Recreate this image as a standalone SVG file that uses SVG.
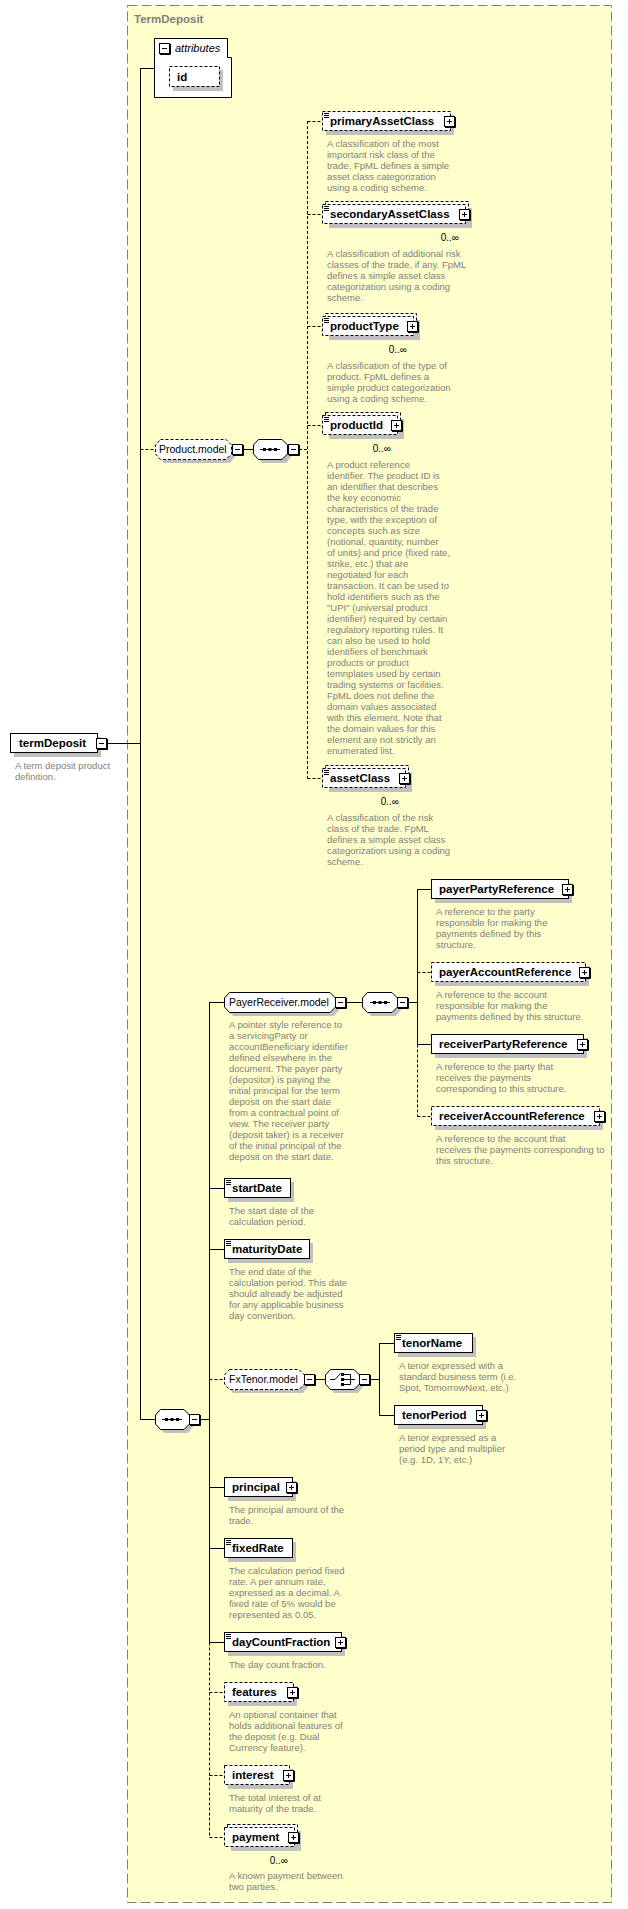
<svg xmlns="http://www.w3.org/2000/svg" width="628" height="1909" viewBox="0 0 628 1909">
<style>
.bg{fill:#FFFFCC;stroke:#808080;stroke-dasharray:10,4}
.box{fill:#fff;stroke:#000}
.dbox{fill:#fff;stroke:#000;stroke-dasharray:3,2}
.sh{fill:#C0C0C0}
.ln{fill:none;stroke:#000}
.dl{fill:none;stroke:#000;stroke-dasharray:3,2}
.lbl{font-family:"Liberation Sans",Arial,sans-serif;font-weight:bold;font-size:11.5px;fill:#000}
.mdl{font-family:"Liberation Sans",Arial,sans-serif;font-size:10.5px;fill:#000}
.att{font-family:"Liberation Sans",Arial,sans-serif;font-style:italic;font-size:11px;fill:#000}
.desc{font-family:"Liberation Sans",Arial,sans-serif;font-size:9.5px;fill:#808080}
.occ{font-family:"Liberation Sans",Arial,sans-serif;font-size:10px;fill:#000;text-anchor:end}
.ttl{font-family:"Liberation Sans",Arial,sans-serif;font-weight:bold;font-size:11.5px;fill:#808080}
</style>
<defs>
<g id="plus"><rect x="0.5" y="0.5" width="10" height="10" fill="#fff" stroke="#000"/><path d="M11.5,1V11.5H1" fill="none" stroke="#000"/><path d="M3,5.5H8M5.5,3V8" stroke="#000"/></g>
<g id="minus"><rect x="0.5" y="0.5" width="10" height="10" fill="#fff" stroke="#000"/><path d="M11.5,1V11.5H1" fill="none" stroke="#000"/><path d="M3,5.5H8" stroke="#000"/></g>
<path id="icon" d="M2,2.5h5M2,4.5h5M2,6.5h5" stroke="#000"/>
<g id="seqicon"><path d="M7,10.5H27" stroke="#000"/><rect x="10" y="9" width="3" height="3"/><rect x="15.5" y="9" width="3" height="3"/><rect x="21" y="9" width="3" height="3"/></g>
</defs>

<rect class="bg" x="127.5" y="5.5" width="484" height="1897"/>
<text class="ttl" x="134" y="23">TermDeposit</text>

<g id="connectors">
<path class="ln" d="M107,743.5H140.5M140.5,68V1419.5M140.5,68.5H154M140.5,1419.5H155M200,1419.5H209.5"/>
<path class="dl" d="M140.5,449.5H155"/>
<path class="ln" d="M243,449.5H253"/>
<path class="dl" d="M299,449.5H307.5M307.5,121V778.5M307.5,121.5H322M307.5,214.5H322M307.5,326.5H322M307.5,425.5H322M307.5,778.5H322"/>
<path class="ln" d="M209.5,1002V1642.5M209.5,1002.5H224M209.5,1188.5H224M209.5,1249.5H224M209.5,1487.5H224M209.5,1548.5H224M209.5,1642.5H224"/>
<path class="dl" d="M209.5,1642.5V1837.5M209.5,1379.5H224M209.5,1692.5H224M209.5,1775.5H224M209.5,1837.5H224"/>
<path class="ln" d="M346,1002.5H362M408,1002.5H417.5M417.5,889V1044.5M417.5,889.5H431M417.5,1044.5H431"/>
<path class="dl" d="M417.5,1044.5V1116.5M417.5,972.5H431M417.5,1116.5H431"/>
<path class="ln" d="M315,1379.5H325M370,1379.5H379.5M379.5,1343V1415.5M379.5,1343.5H394M379.5,1415.5H394"/>
</g>

<g id="termDeposit">
<rect class="sh" x="14" y="737" width="87" height="20"/>
<rect class="box" x="10.5" y="733.5" width="87" height="19"/>
<text class="lbl" x="19" y="747">termDeposit</text>
<use href="#minus" x="96" y="738"/>
<text class="desc" x="15" y="769"><tspan x="15">A term deposit product</tspan><tspan x="15" dy="11">definition.</tspan></text>
</g>

<g id="attributes">
<path class="box" d="M154.5,38.5H227.5V57.5H231.5V97.5H154.5Z"/>
<use href="#minus" x="159" y="43"/>
<text class="att" x="175" y="52">attributes</text>
<rect class="sh" x="173" y="70" width="50" height="21"/>
<rect class="dbox" x="169.5" y="66.5" width="50" height="20"/>
<text class="lbl" x="177" y="81">id</text>
</g>

<g id="Product.model">
<path class="sh" d="M164,443H230L235,449V457L230,463H164L159,457V449Z"/>
<path class="dbox" d="M160.5,439.5H226L231.5,445V454L226,459.5H160.5L155.5,454V445Z"/>
<text class="mdl" x="159" y="453">Product.model</text>
<use href="#minus" x="232" y="444"/>
</g>
<g id="Product.sequence">
<path class="sh" d="M262,443H286L291,449V457L286,463H262L257,457V449Z"/>
<path class="box" d="M258.5,439.5H282L287.5,445V454L282,459.5H258.5L253.5,454V445Z"/>
<use href="#seqicon" x="253" y="439"/>
<use href="#minus" x="288" y="444"/>
</g>

<g id="primaryAssetClass">
<rect class="sh" x="326" y="115" width="128" height="20"/>
<rect class="dbox" x="322.5" y="111.5" width="128" height="19"/>
<use href="#icon" x="322" y="111"/>
<text class="lbl" x="330" y="125">primaryAssetClass</text>
<use href="#plus" x="444" y="116"/>
<text class="desc" x="327" y="147"><tspan x="327">A classification of the most</tspan><tspan x="327" dy="11">important risk class of the</tspan><tspan x="327" dy="11">trade. FpML defines a simple</tspan><tspan x="327" dy="11">asset class categorization</tspan><tspan x="327" dy="11">using a coding scheme.</tspan></text>
</g>

<g id="secondaryAssetClass">
<rect class="sh" x="329" y="208" width="143" height="20"/>
<rect class="dbox" x="325.5" y="201.5" width="143" height="19"/>
<rect class="dbox" x="322.5" y="204.5" width="143" height="19"/>
<use href="#icon" x="322" y="204"/>
<text class="lbl" x="330" y="218">secondaryAssetClass</text>
<use href="#plus" x="459" y="209"/>
<text class="occ" x="459" y="241">0..∞</text>
<text class="desc" x="327" y="257"><tspan x="327">A classification of additional risk</tspan><tspan x="327" dy="11">classes of the trade, if any. FpML</tspan><tspan x="327" dy="11">defines a simple asset class</tspan><tspan x="327" dy="11">categorization using a coding</tspan><tspan x="327" dy="11">scheme.</tspan></text>
</g>

<g id="productType">
<rect class="sh" x="329" y="320" width="91" height="20"/>
<rect class="dbox" x="325.5" y="313.5" width="91" height="19"/>
<rect class="dbox" x="322.5" y="316.5" width="91" height="19"/>
<use href="#icon" x="322" y="316"/>
<text class="lbl" x="330" y="330">productType</text>
<use href="#plus" x="407" y="321"/>
<text class="occ" x="407" y="353">0..∞</text>
<text class="desc" x="327" y="369"><tspan x="327">A classification of the type of</tspan><tspan x="327" dy="11">product. FpML defines a</tspan><tspan x="327" dy="11">simple product categorization</tspan><tspan x="327" dy="11">using a coding scheme.</tspan></text>
</g>

<g id="productId">
<rect class="sh" x="329" y="419" width="75" height="20"/>
<rect class="dbox" x="325.5" y="412.5" width="75" height="19"/>
<rect class="dbox" x="322.5" y="415.5" width="75" height="19"/>
<use href="#icon" x="322" y="415"/>
<text class="lbl" x="330" y="429">productId</text>
<use href="#plus" x="391" y="420"/>
<text class="occ" x="391" y="452">0..∞</text>
<text class="desc" x="327" y="468"><tspan x="327">A product reference</tspan><tspan x="327" dy="11">identifier. The product ID is</tspan><tspan x="327" dy="11">an identifier that describes</tspan><tspan x="327" dy="11">the key economic</tspan><tspan x="327" dy="11">characteristics of the trade</tspan><tspan x="327" dy="11">type, with the exception of</tspan><tspan x="327" dy="11">concepts such as size</tspan><tspan x="327" dy="11">(notional, quantity, number</tspan><tspan x="327" dy="11">of units) and price (fixed rate,</tspan><tspan x="327" dy="11">strike, etc.) that are</tspan><tspan x="327" dy="11">negotiated for each</tspan><tspan x="327" dy="11">transaction. It can be used to</tspan><tspan x="327" dy="11">hold identifiers such as the</tspan><tspan x="327" dy="11">"UPI" (universal product</tspan><tspan x="327" dy="11">identifier) required by certain</tspan><tspan x="327" dy="11">regulatory reporting rules. It</tspan><tspan x="327" dy="11">can also be used to hold</tspan><tspan x="327" dy="11">identifiers of benchmark</tspan><tspan x="327" dy="11">products or product</tspan><tspan x="327" dy="11">temnplates used by certain</tspan><tspan x="327" dy="11">trading systems or facilities.</tspan><tspan x="327" dy="11">FpML does not define the</tspan><tspan x="327" dy="11">domain values associated</tspan><tspan x="327" dy="11">with this element. Note that</tspan><tspan x="327" dy="11">the domain values for this</tspan><tspan x="327" dy="11">element are not strictly an</tspan><tspan x="327" dy="11">enumerated list.</tspan></text>
</g>

<g id="assetClass">
<rect class="sh" x="329" y="772" width="83" height="20"/>
<rect class="dbox" x="325.5" y="765.5" width="83" height="19"/>
<rect class="dbox" x="322.5" y="768.5" width="83" height="19"/>
<use href="#icon" x="322" y="768"/>
<text class="lbl" x="330" y="782">assetClass</text>
<use href="#plus" x="399" y="773"/>
<text class="occ" x="399" y="805">0..∞</text>
<text class="desc" x="327" y="821"><tspan x="327">A classification of the risk</tspan><tspan x="327" dy="11">class of the trade. FpML</tspan><tspan x="327" dy="11">defines a simple asset class</tspan><tspan x="327" dy="11">categorization using a coding</tspan><tspan x="327" dy="11">scheme.</tspan></text>
</g>

<g id="main.sequence">
<path class="sh" d="M164,1413H188L193,1419V1427L188,1433H164L159,1427V1419Z"/>
<path class="box" d="M160.5,1409.5H184L189.5,1415V1424L184,1429.5H160.5L155.5,1424V1415Z"/>
<use href="#seqicon" x="155" y="1409"/>
<use href="#minus" x="189" y="1414"/>
</g>

<g id="PayerReceiver.model">
<path class="sh" d="M233,996H334L339,1002V1010L334,1016H233L228,1010V1002Z"/>
<path class="box" d="M229.5,992.5H330L335.5,998V1007L330,1012.5H229.5L224.5,1007V998Z"/>
<text class="mdl" x="229" y="1006">PayerReceiver.model</text>
<use href="#minus" x="335" y="997"/>
<text class="desc" x="229" y="1028"><tspan x="229">A pointer style reference to</tspan><tspan x="229" dy="11">a servicingParty or</tspan><tspan x="229" dy="11">accountBeneficiary identifier</tspan><tspan x="229" dy="11">defined elsewhere in the</tspan><tspan x="229" dy="11">document. The payer party</tspan><tspan x="229" dy="11">(depositor) is paying the</tspan><tspan x="229" dy="11">initial principal for the term</tspan><tspan x="229" dy="11">deposit on the start date</tspan><tspan x="229" dy="11">from a contractual point of</tspan><tspan x="229" dy="11">view. The receiver party</tspan><tspan x="229" dy="11">(deposit taker) is a receiver</tspan><tspan x="229" dy="11">of the initial principal of the</tspan><tspan x="229" dy="11">deposit on the start date.</tspan></text>
</g>
<g id="PayerReceiver.sequence">
<path class="sh" d="M371,996H396L401,1002V1010L396,1016H371L366,1010V1002Z"/>
<path class="box" d="M367.5,992.5H392L397.5,998V1007L392,1012.5H367.5L362.5,1007V998Z"/>
<use href="#seqicon" x="363" y="992"/>
<use href="#minus" x="397" y="997"/>
</g>

<g id="payerPartyReference">
<rect class="sh" x="435" y="883" width="137" height="20"/>
<rect class="box" x="431.5" y="879.5" width="137" height="19"/>
<text class="lbl" x="439" y="893">payerPartyReference</text>
<use href="#plus" x="562" y="884"/>
<text class="desc" x="436" y="915"><tspan x="436">A reference to the party</tspan><tspan x="436" dy="11">responsible for making the</tspan><tspan x="436" dy="11">payments defined by this</tspan><tspan x="436" dy="11">structure.</tspan></text>
</g>

<g id="payerAccountReference">
<rect class="sh" x="435" y="966" width="154" height="20"/>
<rect class="dbox" x="431.5" y="962.5" width="154" height="19"/>
<text class="lbl" x="439" y="976">payerAccountReference</text>
<use href="#plus" x="579" y="967"/>
<text class="desc" x="436" y="998"><tspan x="436">A reference to the account</tspan><tspan x="436" dy="11">responsible for making the</tspan><tspan x="436" dy="11">payments defined by this structure.</tspan></text>
</g>

<g id="receiverPartyReference">
<rect class="sh" x="435" y="1038" width="152" height="20"/>
<rect class="box" x="431.5" y="1034.5" width="152" height="19"/>
<text class="lbl" x="439" y="1048">receiverPartyReference</text>
<use href="#plus" x="577" y="1039"/>
<text class="desc" x="436" y="1070"><tspan x="436">A reference to the party that</tspan><tspan x="436" dy="11">receives the payments</tspan><tspan x="436" dy="11">corresponding to this structure.</tspan></text>
</g>

<g id="receiverAccountReference">
<rect class="sh" x="435" y="1110" width="168" height="20"/>
<rect class="dbox" x="431.5" y="1106.5" width="168" height="19"/>
<text class="lbl" x="439" y="1120">receiverAccountReference</text>
<use href="#plus" x="594" y="1111"/>
<text class="desc" x="436" y="1142"><tspan x="436">A reference to the account that</tspan><tspan x="436" dy="11">receives the payments corresponding to</tspan><tspan x="436" dy="11">this structure.</tspan></text>
</g>

<g id="startDate">
<rect class="sh" x="228" y="1182" width="66" height="20"/>
<rect class="box" x="224.5" y="1178.5" width="66" height="19"/>
<use href="#icon" x="224" y="1178"/>
<text class="lbl" x="232" y="1192">startDate</text>
<text class="desc" x="229" y="1214"><tspan x="229">The start date of the</tspan><tspan x="229" dy="11">calculation period.</tspan></text>
</g>

<g id="maturityDate">
<rect class="sh" x="228" y="1243" width="85" height="20"/>
<rect class="box" x="224.5" y="1239.5" width="85" height="19"/>
<use href="#icon" x="224" y="1239"/>
<text class="lbl" x="232" y="1253">maturityDate</text>
<text class="desc" x="229" y="1275"><tspan x="229">The end date of the</tspan><tspan x="229" dy="11">calculation period. This date</tspan><tspan x="229" dy="11">should already be adjusted</tspan><tspan x="229" dy="11">for any applicable business</tspan><tspan x="229" dy="11">day convention.</tspan></text>
</g>

<g id="FxTenor.model">
<path class="sh" d="M233,1373H303L308,1379V1387L303,1393H233L228,1387V1379Z"/>
<path class="dbox" d="M229.5,1369.5H299L304.5,1375V1384L299,1389.5H229.5L224.5,1384V1375Z"/>
<text class="mdl" x="229" y="1383">FxTenor.model</text>
<use href="#minus" x="304" y="1374"/>
</g>
<g id="FxTenor.choice">
<path class="sh" d="M334,1373H358L363,1379V1387L358,1393H334L329,1387V1379Z"/>
<path class="box" d="M330.5,1369.5H354L359.5,1375V1384L354,1389.5H330.5L325.5,1384V1375Z"/>
<path d="M330,1379.5H335L340.5,1373.5M344,1374.5H350.5V1384.5H344M344,1379.5H355" fill="none" stroke="#000"/>
<rect x="341" y="1373" width="3" height="3"/><rect x="341" y="1378" width="3" height="3"/><rect x="341" y="1383" width="3" height="3"/>
<use href="#minus" x="359" y="1374"/>
</g>

<g id="tenorName">
<rect class="sh" x="398" y="1337" width="78" height="20"/>
<rect class="box" x="394.5" y="1333.5" width="78" height="19"/>
<use href="#icon" x="394" y="1333"/>
<text class="lbl" x="402" y="1347">tenorName</text>
<text class="desc" x="399" y="1369"><tspan x="399">A tenor expressed with a</tspan><tspan x="399" dy="11">standard business term (i.e.</tspan><tspan x="399" dy="11">Spot, TomorrowNext, etc.)</tspan></text>
</g>

<g id="tenorPeriod">
<rect class="sh" x="398" y="1409" width="88" height="20"/>
<rect class="box" x="394.5" y="1405.5" width="88" height="19"/>
<text class="lbl" x="402" y="1419">tenorPeriod</text>
<use href="#plus" x="476" y="1410"/>
<text class="desc" x="399" y="1441"><tspan x="399">A tenor expressed as a</tspan><tspan x="399" dy="11">period type and multiplier</tspan><tspan x="399" dy="11">(e.g. 1D, 1Y, etc.)</tspan></text>
</g>

<g id="principal">
<rect class="sh" x="228" y="1481" width="68" height="20"/>
<rect class="box" x="224.5" y="1477.5" width="68" height="19"/>
<text class="lbl" x="232" y="1491">principal</text>
<use href="#plus" x="286" y="1482"/>
<text class="desc" x="229" y="1513"><tspan x="229">The principal amount of the</tspan><tspan x="229" dy="11">trade.</tspan></text>
</g>

<g id="fixedRate">
<rect class="sh" x="228" y="1542" width="68" height="20"/>
<rect class="box" x="224.5" y="1538.5" width="68" height="19"/>
<use href="#icon" x="224" y="1538"/>
<text class="lbl" x="232" y="1552">fixedRate</text>
<text class="desc" x="229" y="1574"><tspan x="229">The calculation period fixed</tspan><tspan x="229" dy="11">rate. A per annum rate,</tspan><tspan x="229" dy="11">expressed as a decimal. A</tspan><tspan x="229" dy="11">fixed rate of 5% would be</tspan><tspan x="229" dy="11">represented as 0.05.</tspan></text>
</g>

<g id="dayCountFraction">
<rect class="sh" x="228" y="1636" width="117" height="20"/>
<rect class="box" x="224.5" y="1632.5" width="117" height="19"/>
<use href="#icon" x="224" y="1632"/>
<text class="lbl" x="232" y="1646">dayCountFraction</text>
<use href="#plus" x="335" y="1637"/>
<text class="desc" x="229" y="1668">The day count fraction.</text>
</g>

<g id="features">
<rect class="sh" x="228" y="1686" width="69" height="20"/>
<rect class="dbox" x="224.5" y="1682.5" width="69" height="19"/>
<text class="lbl" x="232" y="1696">features</text>
<use href="#plus" x="287" y="1687"/>
<text class="desc" x="229" y="1718"><tspan x="229">An optional container that</tspan><tspan x="229" dy="11">holds additional features of</tspan><tspan x="229" dy="11">the deposit (e.g. Dual</tspan><tspan x="229" dy="11">Currency feature).</tspan></text>
</g>

<g id="interest">
<rect class="sh" x="228" y="1769" width="65" height="20"/>
<rect class="dbox" x="224.5" y="1765.5" width="65" height="19"/>
<text class="lbl" x="232" y="1779">interest</text>
<use href="#plus" x="283" y="1770"/>
<text class="desc" x="229" y="1801"><tspan x="229">The total interest of at</tspan><tspan x="229" dy="11">maturity of the trade.</tspan></text>
</g>

<g id="payment">
<rect class="sh" x="231" y="1831" width="70" height="20"/>
<rect class="dbox" x="227.5" y="1824.5" width="70" height="19"/>
<rect class="dbox" x="224.5" y="1827.5" width="70" height="19"/>
<text class="lbl" x="232" y="1841">payment</text>
<use href="#plus" x="288" y="1832"/>
<text class="occ" x="288" y="1864">0..∞</text>
<text class="desc" x="229" y="1879"><tspan x="229">A known payment between</tspan><tspan x="229" dy="11">two parties.</tspan></text>
</g>
</svg>
